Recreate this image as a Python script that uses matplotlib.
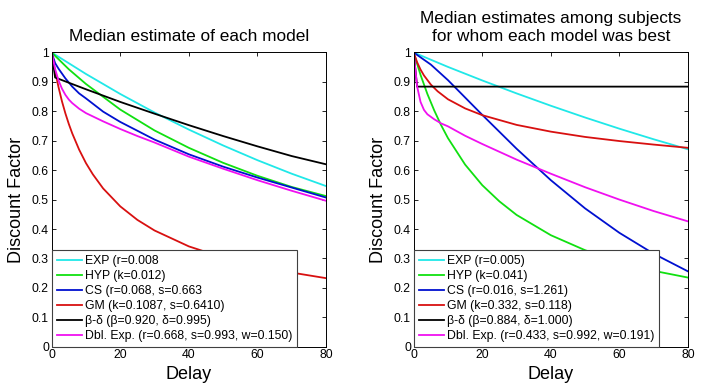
import matplotlib
matplotlib.use("Agg")
import matplotlib.pyplot as plt

plt.rcParams['font.family'] = ['Liberation Sans', 'DejaVu Sans']

# ---- left panel: median estimate of each model ----
t_exp_l = [0, 10, 20, 30, 40, 50, 60, 70, 80]
exp_l = [1.0, 0.927, 0.859, 0.796, 0.738, 0.684, 0.634, 0.588, 0.546]

t_hyp_l = [0, 5, 10, 20, 30, 40, 50, 60, 70, 80]
hyp_l = [1.0, 0.943, 0.893, 0.806, 0.735, 0.676, 0.625, 0.581, 0.543, 0.512]

t_cs_l = [0, 1, 2, 4, 6, 8, 10, 15, 20, 30, 40, 50, 60, 70, 80]
cs_l = [1.0, 0.964, 0.945, 0.912, 0.884, 0.861, 0.844, 0.799, 0.764, 0.704,
        0.654, 0.612, 0.575, 0.541, 0.507]

t_gm_l = [0, 1, 2, 3, 4, 5, 6, 8, 10, 12, 15, 20, 25, 30, 40, 50, 60, 70, 80]
gm_l = [1.0, 0.936, 0.882, 0.834, 0.793, 0.757, 0.725, 0.670, 0.624, 0.586,
        0.538, 0.477, 0.431, 0.395, 0.341, 0.303, 0.274, 0.252, 0.233]

t_bd_l = [0, 1, 10, 20, 30, 40, 50, 60, 70, 80]
bd_l = [1.0, 0.915, 0.875, 0.832, 0.792, 0.753, 0.716, 0.681, 0.648, 0.620]

t_dbl_l = [0, 1, 2, 3, 4, 5, 6, 8, 10, 15, 20, 25, 30, 40, 50, 60, 70, 80]
dbl_l = [1.0, 0.944, 0.905, 0.877, 0.856, 0.840, 0.828, 0.809, 0.794, 0.766,
         0.740, 0.716, 0.694, 0.646, 0.605, 0.566, 0.530, 0.496]

labels_l = ["EXP (r=0.008",
            "HYP (k=0.012)",
            "CS (r=0.068, s=0.663",
            "GM (k=0.1087, s=0.6410)",
            "β-δ (β=0.920, δ=0.995)",
            "Dbl. Exp. (r=0.668, s=0.993, w=0.150)"]

# ---- right panel: subjects for whom each model was best ----
t_exp_r = [0, 10, 20, 30, 40, 50, 60, 70, 80]
exp_r = [1.0, 0.951, 0.905, 0.861, 0.819, 0.779, 0.741, 0.705, 0.671]

t_hyp_r = [0, 2, 4, 6, 8, 10, 15, 20, 25, 30, 40, 50, 60, 70, 80]
hyp_r = [1.0, 0.924, 0.859, 0.803, 0.753, 0.709, 0.619, 0.549, 0.494, 0.448,
         0.379, 0.328, 0.289, 0.258, 0.235]

t_cs_r = [0, 5, 10, 20, 30, 40, 50, 60, 70, 80]
cs_r = [1.0, 0.959, 0.906, 0.788, 0.673, 0.566, 0.470, 0.387, 0.316, 0.256]

t_gm_r = [0, 1, 2, 3, 5, 7, 10, 15, 20, 30, 40, 50, 60, 70, 80]
gm_r = [1.0, 0.967, 0.942, 0.922, 0.891, 0.868, 0.841, 0.810, 0.787, 0.754,
        0.731, 0.713, 0.699, 0.687, 0.676]

t_bd_r = [0, 1, 80]
bd_r = [1.0, 0.884, 0.884]

t_dbl_r = [0, 1, 2, 3, 4, 6, 8, 10, 15, 20, 30, 40, 50, 60, 70, 80]
dbl_r = [1.0, 0.885, 0.832, 0.805, 0.790, 0.773, 0.759, 0.749, 0.717, 0.689,
         0.636, 0.588, 0.542, 0.500, 0.461, 0.426]

labels_r = ["EXP (r=0.005)",
            "HYP (k=0.041)",
            "CS (r=0.016, s=1.261)",
            "GM (k=0.332, s=0.118)",
            "β-δ (β=0.884, δ=1.000)",
            "Dbl. Exp. (r=0.433, s=0.992, w=0.191)"]

colors = ['#20e8e8', '#10e010', '#0010d0', '#d81010', 'black', '#f010f0']

fig = plt.figure(figsize=(7.04, 3.88), dpi=100)
ax1 = fig.add_axes([0.0734, 0.1064, 0.3897, 0.7583])
ax2 = fig.add_axes([0.5876, 0.1064, 0.3897, 0.7583])

panels = [
    (ax1, [(t_exp_l, exp_l), (t_hyp_l, hyp_l), (t_cs_l, cs_l),
           (t_gm_l, gm_l), (t_bd_l, bd_l), (t_dbl_l, dbl_l)],
     labels_l, "Median estimate of each model"),
    (ax2, [(t_exp_r, exp_r), (t_hyp_r, hyp_r), (t_cs_r, cs_r),
           (t_gm_r, gm_r), (t_bd_r, bd_r), (t_dbl_r, dbl_r)],
     labels_r, "Median estimates among subjects\nfor whom each model was best"),
]

for ax, series, labels, title in panels:
    for (x, y), c, lab in zip(series, colors, labels):
        ax.plot(x, y, color=c, lw=1.3, label=lab)
    ax.set_xlim(0, 80)
    ax.set_ylim(0, 1)
    ax.set_xticks([0, 20, 40, 60, 80])
    ax.set_yticks([i / 10 for i in range(11)])
    ax.set_yticklabels(["0", "0.1", "0.2", "0.3", "0.4", "0.5",
                        "0.6", "0.7", "0.8", "0.9", "1"])
    ax.tick_params(direction='in', length=3, width=0.6, labelsize=8.8,
                   top=True, right=True, pad=2)
    for sp in ax.spines.values():
        sp.set_linewidth(0.7)
    ax.set_xlabel("Delay", fontsize=13, labelpad=3)
    ax.set_ylabel("Discount Factor", fontsize=13, labelpad=5)
    ax.set_title(title, fontsize=12.4, pad=8, linespacing=1.3)
    leg = ax.legend(loc='lower left', borderaxespad=0, fontsize=8.8,
                    handlelength=2.05, handletextpad=0.27, labelspacing=0.24,
                    borderpad=0.4, fancybox=False, framealpha=1,
                    edgecolor='#404040')
    leg.get_frame().set_linewidth(0.8)

fig.savefig("out.png", dpi=100)
